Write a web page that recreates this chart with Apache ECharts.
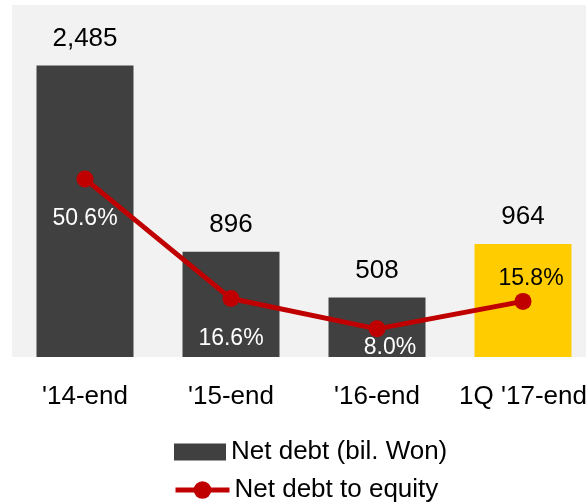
<!DOCTYPE html>
<html lang="en">
<head>
    <meta charset="UTF-8">
    <title>Net debt</title>
    <script type="text/javascript" src="https://cdn.jsdelivr.net/npm/echarts@6/dist/echarts.min.js"></script>
    <style>
        html, body { margin: 0; padding: 0; background: #fff; }
        #chart { width: 586px; height: 502px; }
    </style>
</head>
<body>
    <div id="chart"></div>
    <script type="text/javascript">
        // 数据
        var categories = ["'14-end", "'15-end", "'16-end", "1Q '17-end"];
        var netDebt = [2485, 896, 508, 964];
        var debtToEquity = [50.6, 16.6, 8.0, 15.8];
        // label offsets for the ratio labels [dx, dy]
        var pctOffsets = [[0, 40], [0, 40], [13, 19], [8, -23]];
        var pctColors = ['#fff', '#fff', '#fff', '#000'];

        var font = "'Liberation Sans', Arial, sans-serif";

        var barData = netDebt.map(function (v, i) {
            return {
                value: v,
                itemStyle: { color: i === 3 ? '#ffcc00' : '#404040' }
            };
        });
        var lineData = debtToEquity.map(function (v, i) {
            return {
                value: v,
                label: { offset: pctOffsets[i], color: pctColors[i] }
            };
        });

        var legendText = { fontFamily: font, fontSize: 26, color: '#000', lineHeight: 30 };

        var myChart = echarts.init(document.getElementById('chart'));
        var option = {
            animation: false,
            grid: {
                left: 12, top: 5, width: 584, height: 352,
                outerBoundsMode: 'none',
                show: true, backgroundColor: '#f2f2f2', borderWidth: 0
            },
            legend: [
                {
                    left: 174, top: 437, padding: 0,
                    itemWidth: 52, itemHeight: 17,
                    textStyle: legendText,
                    data: [{ name: 'Net debt (bil. Won)', icon: 'rect' }]
                },
                {
                    left: 173, top: 475, padding: 0,
                    itemWidth: 54, itemHeight: 22,
                    textStyle: legendText,
                    lineStyle: { width: 5 },
                    data: [{ name: 'Net debt to equity' }]
                }
            ],
            xAxis: {
                type: 'category',
                data: categories,
                axisLine: { show: false },
                axisTick: { show: false },
                axisLabel: { interval: 0, fontFamily: font, fontSize: 26, color: '#000', margin: 27 }
            },
            yAxis: [
                { type: 'value', min: 0, max: 3000, show: false, splitLine: { show: false } },
                { type: 'value', min: 0, max: 100, show: false, splitLine: { show: false } }
            ],
            series: [
                {
                    name: 'Net debt (bil. Won)',
                    type: 'bar',
                    barWidth: 97,
                    data: barData,
                    itemStyle: { color: '#404040' },
                    label: {
                        show: true,
                        position: 'top',
                        distance: 14,
                        fontFamily: font,
                        fontSize: 26,
                        color: '#000',
                        formatter: function (p) { return p.value.toLocaleString('en-US'); }
                    }
                },
                {
                    name: 'Net debt to equity',
                    type: 'line',
                    yAxisIndex: 1,
                    data: lineData,
                    symbol: 'circle',
                    symbolSize: 17,
                    itemStyle: { color: '#c00000' },
                    lineStyle: { color: '#c00000', width: 5 },
                    z: 5,
                    label: {
                        show: true,
                        position: 'inside',
                        fontFamily: font,
                        fontSize: 23,
                        formatter: function (p) { return p.value.toFixed(1) + '%'; }
                    }
                }
            ]
        };
        myChart.setOption(option);
    </script>
</body>
</html>
